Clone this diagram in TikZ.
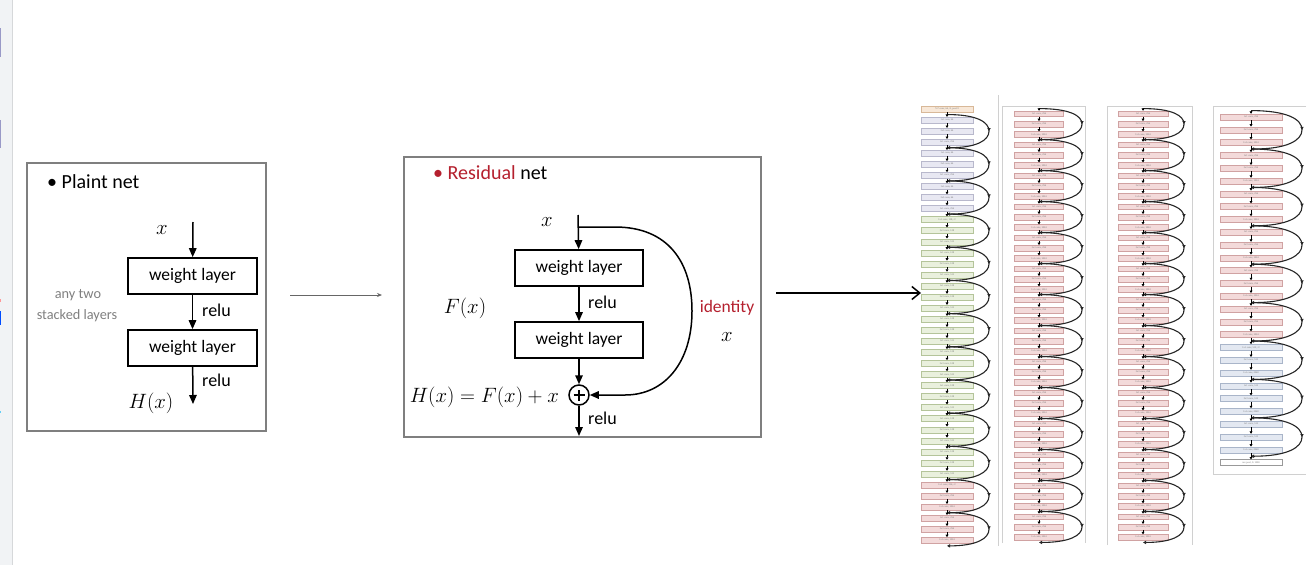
\documentclass[tikz,border=0pt]{standalone}
\usepackage{fontspec}
\setmainfont{Carlito}
\newfontfamily\tinyf{Liberation Serif}
\usetikzlibrary{arrows.meta,decorations.markings}
\definecolor{resred}{HTML}{B5202E}
\definecolor{frgray}{HTML}{7F7F7F}
\definecolor{pgray}{HTML}{D0D0D0}
\definecolor{sidebg}{HTML}{F1F3F5}
\definecolor{sideln}{HTML}{D6D8DA}
\definecolor{fconv}{HTML}{F8E8D8}\definecolor{dconv}{HTML}{D8B898}
\definecolor{fsixf}{HTML}{E8E8F2}\definecolor{dsixf}{HTML}{B8B8CC}
\definecolor{fonet}{HTML}{E9F0DD}\definecolor{donet}{HTML}{B4C49A}
\definecolor{ftwof}{HTML}{F3DADA}\definecolor{dtwof}{HTML}{D0A2A2}
\definecolor{ffive}{HTML}{E3E8F1}\definecolor{dfive}{HTML}{A9B5C9}
\definecolor{skipc}{HTML}{262626}
\tikzset{
  lframe/.style={draw=frgray, line width=1.3pt},
  wbox/.style={draw, line width=1.7pt, fill=white, minimum width=129pt, minimum height=36pt, inner sep=0pt, font=\fontsize{17.5}{20}\selectfont},
  marr/.style={line width=1.5pt, -{Triangle[length=9pt,width=7.5pt]}},
  mtxt/.style={font=\fontsize{20}{24}\selectfont, inner sep=0pt},
  relu/.style={font=\fontsize{18}{21}\selectfont, inner sep=0pt},
  rb/.style={draw, line width=0.4pt, inner sep=0pt, text=black!55, font=\tinyf\fontsize{2.5}{3}\selectfont},
  conv/.style={fill=fconv, draw=dconv},
  sixf/.style={fill=fsixf, draw=dsixf},
  onet/.style={fill=fonet, draw=donet},
  twof/.style={fill=ftwof, draw=dtwof},
  five/.style={fill=ffive, draw=dfive},
  pool/.style={fill=white, draw=black!40},
  sarr/.style={line width=0.6pt, draw=black, -{Triangle[length=2.4pt,width=2.8pt]}},
  skip/.style={line width=1.1pt, draw=skipc, -{Triangle[length=3pt,width=3.2pt]},
    postaction={decorate}, decoration={markings, mark=at position 0.5 with {\arrow{Triangle[length=3pt,width=3.2pt]}}}},
  panel/.style={draw=pgray, line width=0.7pt}
}
\newcommand\rbox[4]{%
  \pgfmathsetmacro\yy{\ryz+(#2)*\rsp+\rbh/2}%
  \node[rb,#3,minimum width=\rbw pt,minimum height=\rbh pt] (#1b#2) at (\rcx,\yy) {#4};}
\newcommand\rblock[6]{%
  \pgfmathtruncatemacro\ia{#2}\pgfmathtruncatemacro\ib{#2+1}\pgfmathtruncatemacro\ic{#2+2}%
  \rbox{#1}{\ia}{#3}{#4}\rbox{#1}{\ib}{#3}{#5}\rbox{#1}{\ic}{#3}{#6}%
  \pgfmathsetmacro\ya{\ryz+(#2)*\rsp-(\rsp-\rbh)/2}%
  \pgfmathsetmacro\yb{\ryz+(#2+3)*\rsp-(\rsp-\rbh)/2}%
  \pgfmathsetmacro\ym{(\ya+\yb)/2}%
  \pgfmathsetmacro\xr{\rcx+\rrr}%
  \pgfmathsetmacro\xa{\rcx+0.7*\rrr}%
  \pgfmathsetmacro\yq{\ya+0.22*(\yb-\ya)}%
  \pgfmathsetmacro\yw{\yb-0.22*(\yb-\ya)}%
  \coordinate (#1s\ia) at (\rcx,\ya);%
  \coordinate (#1e\ia) at (\rcx,\yb);%
  \draw[skip] (#1s\ia) .. controls (\xa,\ya) and (\xr,\yq) .. (\xr,\ym) .. controls (\xr,\yw) and (\xa,\yb) .. (#1e\ia);}
\begin{document}
\begin{tikzpicture}[x=1pt,y=-1pt]
\useasboundingbox (0,0) rectangle (1316,565);
\fill[white] (0,0) rectangle (1316,565);
% sidebar
\fill[sidebg] (0,0) rectangle (12,565);
\draw[sideln, line width=0.8pt] (12.5,0) -- (12.5,565);
\fill[black!55!blue!40] (0,28) rectangle (1.3,57);
\fill[black!55!blue!40] (0,120) rectangle (1.3,148);
\fill[red!40] (0,299) rectangle (1.2,302);
\fill[blue!70!cyan] (0,311) rectangle (1.4,325);
\fill[cyan!60] (0,411) rectangle (1.2,413);

% ---------- Plain net panel ----------
\draw[lframe] (27,163) rectangle (266,431);
\node[mtxt, anchor=west] (ptitle) at (47,182) {• Plaint net};
\node[mtxt] (px) at (162,230) {$x$};
\coordinate (pin) at (193,222);
\node[wbox] (pw1) at (192.5,276) {weight layer};
\node[wbox] (pw2) at (192.5,348) {weight layer};
\coordinate (pout) at (193,404);
\draw[marr] (pin) -- (pw1);
\draw[marr] (pw1) -- (pw2);
\draw[marr] (pw2) -- (pout);
\node[relu, anchor=west] (pr1) at (202,310) {relu};
\node[relu, anchor=west] (pr2) at (202,380) {relu};
\node[mtxt] (phx) at (151,403) {$H(x)$};
\node[font=\fontsize{14.3}{17}\selectfont, text=black!50, inner sep=0pt] (pany) at (78,295) {any two};
\node[font=\fontsize{14.3}{17}\selectfont, text=black!50, inner sep=0pt] (pstk) at (77,316) {stacked layers};

% arrow 1
\coordinate (a1s) at (290,295);
\coordinate (a1e) at (382,295);
\draw[line width=0.8pt, draw=black!60, -{Stealth[length=5pt,width=4pt]}] (a1s) -- (a1e);

% ---------- Residual net panel ----------
\draw[lframe] (404,157) rectangle (761,437);
\node[mtxt, anchor=west] (rtitle) at (433,173) {{\color{resred}• Residual} net};
\node[mtxt] (rx) at (547,222) {$x$};
\coordinate (rin) at (578,215);
\coordinate (rj) at (578,227);
\node[wbox, minimum width=128pt] (rw1) at (579,268) {weight layer};
\node[wbox, minimum width=128pt] (rw2) at (579,340) {weight layer};
\node[circle, draw, line width=1.5pt, minimum size=20pt, inner sep=0pt,
  path picture={\draw[line width=1.3pt] (path picture bounding box.center) ++(-5.5pt,0) -- ++(11pt,0);
                \draw[line width=1.3pt] (path picture bounding box.center) ++(0,-5.5pt) -- ++(0,11pt);}] (plus) at (579,395) {};
\coordinate (rout) at (579,436);
\draw[marr] (rin) -- (rw1);
\draw[marr] (rw1) -- (rw2);
\draw[marr] (rw2) -- (plus);
\draw[marr] (plus) -- (rout);
\draw[marr] (rj) -- (615,227) .. controls (668,227) and (692,262) .. (692,311) .. controls (692,362) and (665,395) .. (625,395) -- (plus);
\node[relu, anchor=west] (rr1) at (588,302) {relu};
\node[relu, anchor=west] (rr2) at (588,418) {relu};
\node[mtxt] (rfx) at (465,308) {$F(x)$};
\node[mtxt, anchor=east] (rhx) at (559,397) {$H(x)=F(x)+x$};
\node[font=\fontsize{17.5}{20}\selectfont, text=resred, inner sep=0pt] (rid) at (727,308) {identity};
\node[mtxt] (rix) at (727,337) {$x$};

% arrow 2
\coordinate (a2s) at (776,293);
\coordinate (a2e) at (921,293);
\draw[line width=1.5pt, -{Straight Barb[length=8pt,width=13pt,line width=1.5pt]}] (a2s) -- (a2e);

% ---------- ResNet columns ----------
\draw[panel] (998,95) -- (998,546);
\draw[panel] (1002,543) -- (1002,106) -- (1085,106) -- (1085,543);
\draw[panel] (1107,545) -- (1107,106) -- (1192,106) -- (1192,545);
\draw[panel] (1306,106) -- (1213,106) -- (1213,474) -- (1306,474);

% column 1
\def\rcx{947}\def\ryz{106}\def\rsp{11.06}\def\rbw{52}\def\rbh{6}\def\rrr{42}
\rbox{a}{0}{conv}{7x7 conv, 64, /2, pool/2}
\foreach \k in {0,1,2}{\pgfmathtruncatemacro\bi{1+3*\k}\rblock{a}{\bi}{sixf}{1x1 conv, 64}{3x3 conv, 64}{1x1 conv, 256}}
\rblock{a}{10}{onet}{1x1 conv, 128, /2}{3x3 conv, 128}{1x1 conv, 512}
\foreach \k in {1,...,7}{\pgfmathtruncatemacro\bi{10+3*\k}\rblock{a}{\bi}{onet}{1x1 conv, 128}{3x3 conv, 128}{1x1 conv, 512}}
\rblock{a}{34}{twof}{1x1 conv, 256, /2}{3x3 conv, 256}{1x1 conv, 1024}
\rblock{a}{37}{twof}{1x1 conv, 256}{3x3 conv, 256}{1x1 conv, 1024}
\foreach \i in {0,...,38}{\pgfmathtruncatemacro\j{\i+1}\draw[sarr] (ab\i) -- (ab\j);}

% column 2
\def\rcx{1039}\def\ryz{111}\def\rsp{10.33}\def\rbw{49}\def\rbh{5.5}\def\rrr{43}
\foreach \k in {0,...,13}{\pgfmathtruncatemacro\bi{3*\k}\rblock{b}{\bi}{twof}{1x1 conv, 256}{3x3 conv, 256}{1x1 conv, 1024}}
\foreach \i in {0,...,40}{\pgfmathtruncatemacro\j{\i+1}\draw[sarr] (bb\i) -- (bb\j);}
\draw[sarr] (bs0) -- (bb0);

% column 3
\def\rcx{1143}\def\ryz{111}\def\rsp{10.33}\def\rbw{50}\def\rbh{5.5}\def\rrr{41}
\foreach \k in {0,...,13}{\pgfmathtruncatemacro\bi{3*\k}\rblock{c}{\bi}{twof}{1x1 conv, 256}{3x3 conv, 256}{1x1 conv, 1024}}
\foreach \i in {0,...,40}{\pgfmathtruncatemacro\j{\i+1}\draw[sarr] (cb\i) -- (cb\j);}
\draw[sarr] (cs0) -- (cb0);

% column 4
\def\rcx{1251}\def\ryz{114}\def\rsp{12.8}\def\rbw{62}\def\rbh{6}\def\rrr{51}
\foreach \k in {0,...,5}{\pgfmathtruncatemacro\bi{3*\k}\rblock{d}{\bi}{twof}{1x1 conv, 256}{3x3 conv, 256}{1x1 conv, 1024}}
\rblock{d}{18}{five}{1x1 conv, 512, /2}{3x3 conv, 512}{1x1 conv, 2048}
\rblock{d}{21}{five}{1x1 conv, 512}{3x3 conv, 512}{1x1 conv, 2048}
\rblock{d}{24}{five}{1x1 conv, 512}{3x3 conv, 512}{1x1 conv, 2048}
\rbox{d}{27}{pool}{ave pool, fc 1000}
\foreach \i in {0,...,26}{\pgfmathtruncatemacro\j{\i+1}\draw[sarr] (db\i) -- (db\j);}
\draw[sarr] (ds0) -- (db0);
\end{tikzpicture}
\end{document}
